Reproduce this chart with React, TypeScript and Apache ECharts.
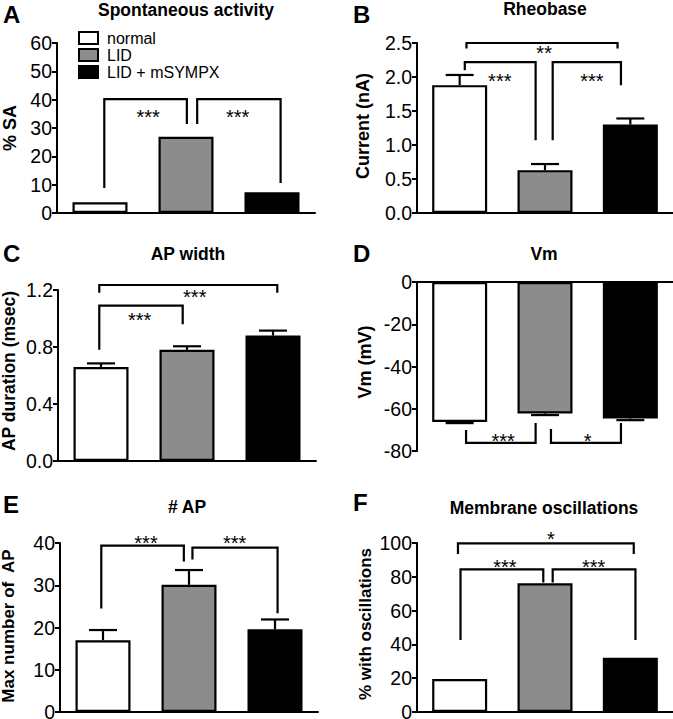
import React, { useEffect, useRef } from "react";
import * as echarts from "echarts";

const FONT = "'Liberation Sans', Arial, Helvetica, sans-serif";

const GROUPS = ["normal", "LID", "LID + mSYMPX"];
const COLORS = ["#ffffff", "#8c8c8c", "#000000"];
const X_POS = [0, 1, 2];

// Panel A – Spontaneous activity (% SA)
const A_VALUES = [3.8, 26.9, 7.3];
const A_TICKS = { min: 0, max: 60, interval: 10 };
const A_BRACKETS = [
  [0.05, 1.01, 40.2, 8.8, 31.4],
  [1.13, 2.1, 40.2, 31.4, 10.6],
];
const A_STARS = [
  { x: 0.56, y: 35.3, t: "***" },
  { x: 1.6, y: 35.3, t: "***" },
];

// Panel B – Rheobase (nA)
const B_VALUES = [1.88, 0.63, 1.3];
const B_ERRORS = [0.15, 0.09, 0.09];
const B_TICKS = { min: 0, max: 2.5, interval: 0.5 };
const B_BRACKETS = [
  [0.08, 1.85, 2.5, 2.42, 2.42],
  [0.06, 0.89, 2.22, 2.1, 1.07],
  [1.09, 1.89, 2.22, 1.07, 1.88],
];
const B_STARS = [
  { x: 0.99, y: 2.42, t: "**" },
  { x: 0.47, y: 2.01, t: "***" },
  { x: 1.55, y: 2.01, t: "***" },
];

// Panel C – AP width (msec)
const C_VALUES = [0.66, 0.78, 0.88];
const C_ERRORS = [0.025, 0.025, 0.035];
const C_TICKS = { min: 0, max: 1.2, interval: 0.4 };
const C_BRACKETS = [
  [-0.02, 2.05, 1.235, 1.18, 1.18],
  [-0.02, 0.95, 1.09, 0.78, 0.96],
];
const C_STARS = [
  { x: 1.09, y: 1.18, t: "***" },
  { x: 0.45, y: 1.02, t: "***" },
];

// Panel D – Vm (mV)
const D_VALUES = [-66.3, -62.2, -64.6];
const D_ERRORS = [0.5, 0.8, 0.8];
const D_TICKS = { min: -80, max: 0, interval: 20 };
const D_BRACKETS = [
  [0.075, 0.89, -76.2, -70.1, -66.7],
  [1.07, 1.89, -76.2, -69.6, -66.7],
];
const D_STARS = [
  { x: 0.51, y: -72.9, t: "***" },
  { x: 1.5, y: -72.9, t: "*" },
];

// Panel E – # AP
const E_VALUES = [17.0, 30.1, 19.6];
const E_ERRORS = [2.4, 3.5, 2.3];
const E_TICKS = { min: 0, max: 40, interval: 10 };
const E_BRACKETS = [
  [-0.02, 0.94, 39.4, 24.5, 35.6],
  [1.04, 2.03, 38.9, 36.1, 23.4],
];
const E_STARS = [
  { x: 0.5, y: 41.1, t: "***" },
  { x: 1.53, y: 41.1, t: "***" },
];

// Panel F – Membrane oscillations (%)
const F_VALUES = [19.5, 76.2, 32.1];
const F_TICKS = { min: 0, max: 100, interval: 20 };
const F_BRACKETS = [
  [-0.02, 2.04, 99.8, 93.5, 93.5],
  [0.01, 0.98, 84.4, 42.6, 76.7],
  [1.09, 2.06, 84.4, 76.7, 42.6],
];
const F_STARS = [
  { x: 1.07, y: 105.3, t: "*" },
  { x: 0.53, y: 88.6, t: "***" },
  { x: 1.57, y: 88.6, t: "***" },
];

type Panel = {
  letter: string;
  title: string;
  yName: string;
  values: number[];
  errors: number[] | null;
  ticks: { min: number; max: number; interval: number };
  decimals: number;
  brackets: number[][];
  stars: { x: number; y: number; t: string }[];
  grid: { left: number; top: number; width: number; height: number };
  letterPos: [number, number];
  titlePos: [number, number];
  yNamePos: [number, number];
  yNameSize: number;
};

const PANELS: Panel[] = [
  {
    letter: "A", title: "Spontaneous activity", yName: "% SA",
    values: A_VALUES, errors: null, ticks: A_TICKS, decimals: 0,
    brackets: A_BRACKETS, stars: A_STARS,
    grid: { left: 57, top: 43, width: 258, height: 170 },
    letterPos: [3, 14], titlePos: [186, 10], yNamePos: [10, 128], yNameSize: 18,
  },
  {
    letter: "B", title: "Rheobase", yName: "Current (nA)",
    values: B_VALUES, errors: B_ERRORS, ticks: B_TICKS, decimals: 1,
    brackets: B_BRACKETS, stars: B_STARS,
    grid: { left: 417, top: 43, width: 256, height: 170 },
    letterPos: [353, 14], titlePos: [545, 9], yNamePos: [363, 126], yNameSize: 18,
  },
  {
    letter: "C", title: "AP width", yName: "AP duration (msec)",
    values: C_VALUES, errors: C_ERRORS, ticks: C_TICKS, decimals: 1,
    brackets: C_BRACKETS, stars: C_STARS,
    grid: { left: 58, top: 290, width: 258, height: 171 },
    letterPos: [3, 253], titlePos: [188, 254], yNamePos: [9, 371], yNameSize: 17.5,
  },
  {
    letter: "D", title: "Vm", yName: "Vm (mV)",
    values: D_VALUES, errors: D_ERRORS, ticks: D_TICKS, decimals: 0,
    brackets: D_BRACKETS, stars: D_STARS,
    grid: { left: 417, top: 282, width: 256, height: 169 },
    letterPos: [353, 253], titlePos: [544, 254], yNamePos: [365, 362], yNameSize: 18,
  },
  {
    letter: "E", title: "# AP", yName: "Max number of  AP",
    values: E_VALUES, errors: E_ERRORS, ticks: E_TICKS, decimals: 0,
    brackets: E_BRACKETS, stars: E_STARS,
    grid: { left: 60, top: 543, width: 258, height: 169 },
    letterPos: [3, 504], titlePos: [187, 507], yNamePos: [8, 626], yNameSize: 17,
  },
  {
    letter: "F", title: "Membrane oscillations", yName: "% with oscillations",
    values: F_VALUES, errors: null, ticks: F_TICKS, decimals: 0,
    brackets: F_BRACKETS, stars: F_STARS,
    grid: { left: 417, top: 543, width: 256, height: 169 },
    letterPos: [353, 502], titlePos: [544, 508], yNamePos: [365, 624], yNameSize: 17,
  },
];

function buildOption() {
  const grids: any[] = [];
  const xAxes: any[] = [];
  const yAxes: any[] = [];
  const series: any[] = [];
  const graphics: any[] = [];

  PANELS.forEach((p, i) => {
    grids.push({ ...p.grid, containLabel: false, outerBoundsMode: "none" });
    xAxes.push({
      type: "value", gridIndex: i, min: -0.5, max: 2.5,
      axisLine: { show: true, onZero: true, lineStyle: { color: "#000", width: 2 } },
      axisTick: { show: false }, axisLabel: { show: false }, splitLine: { show: false },
    });
    yAxes.push({
      type: "value", gridIndex: i, min: p.ticks.min, max: p.ticks.max, interval: p.ticks.interval,
      axisLine: { show: true, onZero: false, lineStyle: { color: "#000", width: 2 } },
      axisTick: { show: true, length: 5, lineStyle: { color: "#000", width: 2 } },
      axisLabel: {
        color: "#000", fontSize: 19.5, fontFamily: FONT, margin: 5,
        formatter: (v: number) => v.toFixed(p.decimals),
      },
      splitLine: { show: false },
    });

    GROUPS.forEach((g, gi) => {
      series.push({
        type: "bar", name: g, xAxisIndex: i, yAxisIndex: i,
        barWidth: 55, barGap: "-100%",
        data: [[X_POS[gi], p.values[gi]]],
        itemStyle: { color: COLORS[gi], borderColor: "#000", borderWidth: 2.2 },
        z: 2,
      });
    });

    if (p.errors) {
      const errs = p.errors;
      series.push({
        type: "custom", xAxisIndex: i, yAxisIndex: i, clip: false, z: 3,
        data: X_POS.map((x, gi) => [x, p.values[gi], errs[gi]]),
        encode: { x: 0, y: 1 },
        renderItem: (_params: any, api: any) => {
          const x = api.value(0), m = api.value(1), e = api.value(2);
          const end = m >= 0 ? m + e : m - e;
          const p0 = api.coord([x, m]);
          const p1 = api.coord([x, end]);
          return {
            type: "group",
            children: [
              { type: "line", shape: { x1: p0[0], y1: p0[1], x2: p1[0], y2: p1[1] }, style: { stroke: "#000", lineWidth: 2.2 } },
              { type: "line", shape: { x1: p1[0] - 14, y1: p1[1], x2: p1[0] + 14, y2: p1[1] }, style: { stroke: "#000", lineWidth: 2.2 } },
            ],
          };
        },
      });
    }

    series.push({
      type: "custom", xAxisIndex: i, yAxisIndex: i, clip: false, z: 4,
      data: p.brackets,
      encode: { x: [0, 1], y: [2, 3, 4] },
      renderItem: (_params: any, api: any) => {
        const x1 = api.value(0), x2 = api.value(1), yt = api.value(2), yl = api.value(3), yr = api.value(4);
        const a = api.coord([x1, yl]);
        const b = api.coord([x1, yt]);
        const c = api.coord([x2, yt]);
        const d = api.coord([x2, yr]);
        return {
          type: "polyline",
          shape: { points: [a, b, c, d] },
          style: { stroke: "#000", lineWidth: 2.2, fill: "none", lineJoin: "miter" },
        };
      },
    });

    const stars = p.stars;
    series.push({
      type: "custom", xAxisIndex: i, yAxisIndex: i, clip: false, z: 5,
      data: stars.map((s) => [s.x, s.y]),
      encode: { x: 0, y: 1 },
      renderItem: (params: any, api: any) => {
        const s = stars[params.dataIndex];
        const pt = api.coord([api.value(0), api.value(1)]);
        return {
          type: "text",
          x: pt[0], y: pt[1] + 4.5,
          style: { text: s.t, fill: "#000", font: `20px ${FONT}`, align: "center", verticalAlign: "middle" },
        };
      },
    });

    graphics.push({
      type: "text", x: p.letterPos[0], y: p.letterPos[1],
      style: { text: p.letter, fill: "#000", font: `bold 24px ${FONT}`, align: "left", verticalAlign: "middle" },
    });
    graphics.push({
      type: "text", x: p.titlePos[0], y: p.titlePos[1],
      style: { text: p.title, fill: "#000", font: `bold 17.5px ${FONT}`, align: "center", verticalAlign: "middle" },
    });
    graphics.push({
      type: "text", x: p.yNamePos[0], y: p.yNamePos[1], rotation: Math.PI / 2,
      style: { text: p.yName, fill: "#000", font: `bold ${p.yNameSize}px ${FONT}`, align: "center", verticalAlign: "middle" },
    });
  });

  return {
    animation: false,
    backgroundColor: "#ffffff",
    textStyle: { fontFamily: FONT },
    legend: {
      data: GROUPS, orient: "vertical", left: 78, top: 30, padding: 0,
      itemWidth: 19, itemHeight: 12, itemGap: 1, icon: "rect", selectedMode: false,
      itemStyle: { borderColor: "#000", borderWidth: 2 },
      textStyle: { fontSize: 16, color: "#000", fontFamily: FONT, padding: [0, 0, 0, 4] },
    },
    grid: grids,
    xAxis: xAxes,
    yAxis: yAxes,
    series,
    graphic: graphics,
  };
}

export default function App() {
  const ref = useRef<HTMLDivElement>(null);
  useEffect(() => {
    if (!ref.current) return;
    const chart = echarts.init(ref.current, undefined, { renderer: "svg" });
    chart.setOption(buildOption() as any);
    return () => chart.dispose();
  }, []);
  return (
    <div
      ref={ref}
      style={{ position: "fixed", left: 0, top: 0, width: 673, height: 719, background: "#fff" }}
    />
  );
}
